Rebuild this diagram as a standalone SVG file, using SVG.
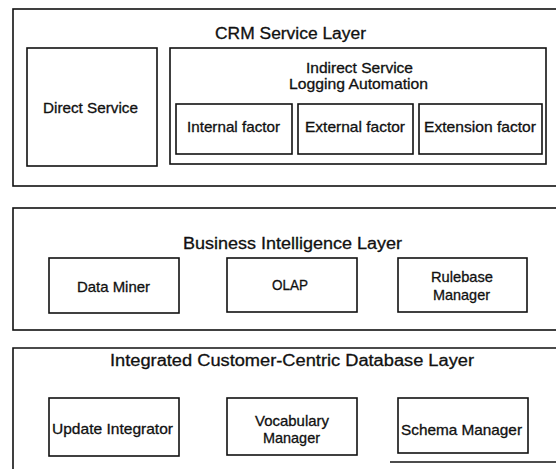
<svg xmlns="http://www.w3.org/2000/svg" width="556" height="469" viewBox="0 0 556 469">
<style>
.b{fill:none;stroke:#111;stroke-width:1.6}
text{font-family:"Liberation Sans",Arial,sans-serif;fill:#111;stroke:#111;stroke-width:0.3;text-anchor:middle}
.t{font-size:16px}
.l{font-size:14.5px}
</style>
<rect width="556" height="469" fill="#fff"/>
<g id="crm-layer">
<rect class="b" x="13" y="9" width="550" height="177"/>
<text class="t" x="290.5" y="38.5" textLength="151" lengthAdjust="spacingAndGlyphs">CRM Service Layer</text>
</g>
<g id="direct-service">
<rect class="b" x="27" y="48" width="130" height="118"/>
<text class="l" x="90.5" y="113" textLength="95" lengthAdjust="spacingAndGlyphs">Direct Service</text>
</g>
<g id="indirect-service">
<rect class="b" x="170" y="48" width="376" height="116"/>
<text class="l" x="359.5" y="73" textLength="107" lengthAdjust="spacingAndGlyphs">Indirect Service</text>
<text class="l" x="358.5" y="89" textLength="139" lengthAdjust="spacingAndGlyphs">Logging Automation</text>
</g>
<g id="internal-factor">
<rect class="b" x="176" y="104" width="116" height="50"/>
<text class="l" x="233.5" y="132" textLength="93" lengthAdjust="spacingAndGlyphs">Internal factor</text>
</g>
<g id="external-factor">
<rect class="b" x="298" y="104" width="115" height="50"/>
<text class="l" x="355" y="132" textLength="100" lengthAdjust="spacingAndGlyphs">External factor</text>
</g>
<g id="extension-factor">
<rect class="b" x="419" y="104" width="123" height="50"/>
<text class="l" x="480" y="132" textLength="112" lengthAdjust="spacingAndGlyphs">Extension factor</text>
</g>
<g id="bi-layer">
<rect class="b" x="13" y="208" width="550" height="122"/>
<text class="t" x="292.5" y="249" textLength="219" lengthAdjust="spacingAndGlyphs">Business Intelligence Layer</text>
</g>
<g id="data-miner">
<rect class="b" x="49" y="258" width="130" height="55"/>
<text class="l" x="113.5" y="292" textLength="73" lengthAdjust="spacingAndGlyphs">Data Miner</text>
</g>
<g id="olap">
<rect class="b" x="227" y="258" width="130" height="54"/>
<text class="l" x="290" y="290" textLength="36" lengthAdjust="spacingAndGlyphs">OLAP</text>
</g>
<g id="rulebase-manager">
<rect class="b" x="398" y="258" width="129" height="54"/>
<text class="l" x="462" y="282" textLength="62" lengthAdjust="spacingAndGlyphs">Rulebase</text>
<text class="l" x="461.5" y="300" textLength="57" lengthAdjust="spacingAndGlyphs">Manager</text>
</g>
<g id="db-layer">
<path class="b" d="M13 470 V348 H563"/>
<path class="b" d="M390 462 H563"/>
<text class="t" x="292" y="365.5" textLength="364" lengthAdjust="spacingAndGlyphs">Integrated Customer-Centric Database Layer</text>
</g>
<g id="update-integrator">
<rect class="b" x="49" y="398" width="130" height="58"/>
<text class="l" x="112.5" y="434" textLength="121" lengthAdjust="spacingAndGlyphs">Update Integrator</text>
</g>
<g id="vocabulary-manager">
<rect class="b" x="227" y="398" width="130" height="57"/>
<text class="l" x="292" y="426" textLength="74" lengthAdjust="spacingAndGlyphs">Vocabulary</text>
<text class="l" x="291.5" y="443" textLength="57" lengthAdjust="spacingAndGlyphs">Manager</text>
</g>
<g id="schema-manager">
<rect class="b" x="398" y="398" width="130" height="55"/>
<text class="l" x="461.5" y="435" textLength="121" lengthAdjust="spacingAndGlyphs">Schema Manager</text>
</g>
<g id="connectors"></g>
</svg>
